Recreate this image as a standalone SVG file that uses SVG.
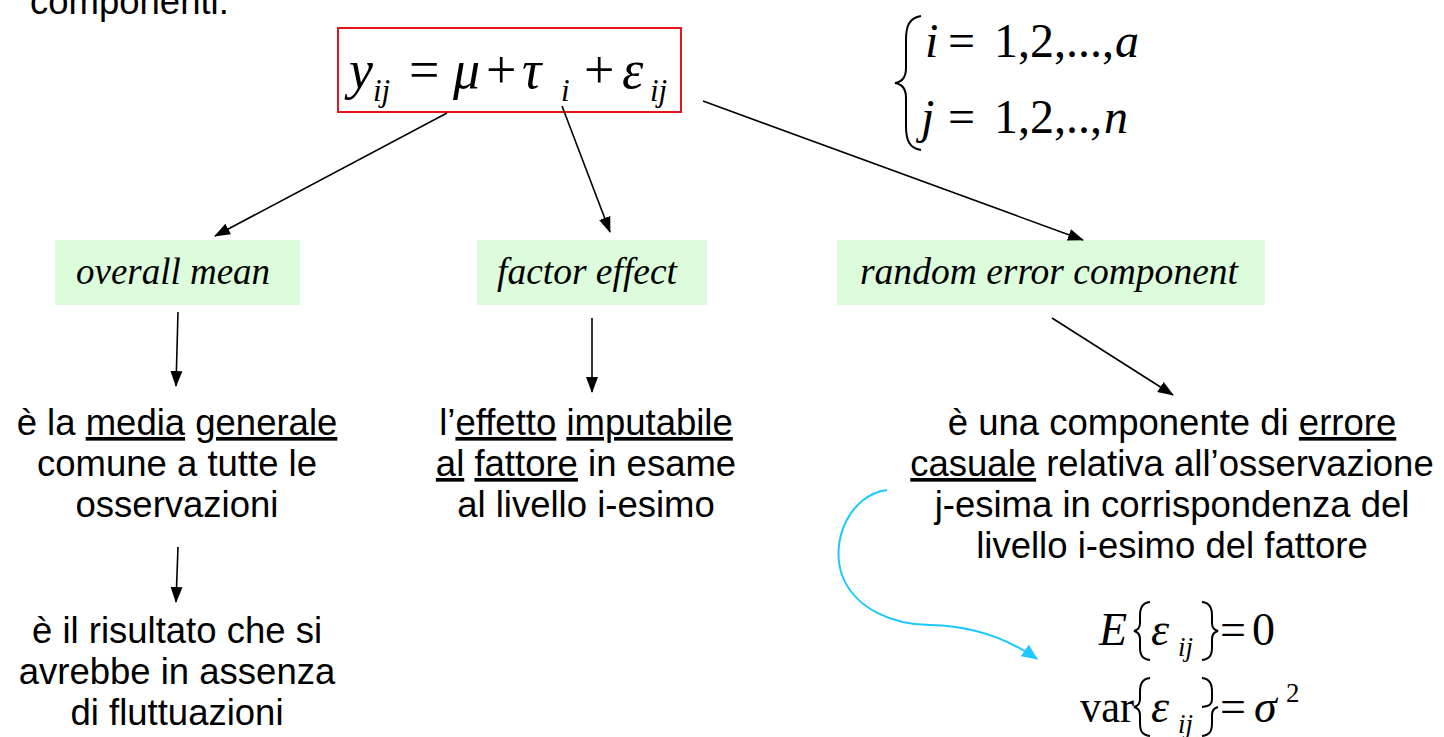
<svg xmlns="http://www.w3.org/2000/svg" width="1444" height="737" viewBox="0 0 1444 737">
<style>
.sans{font-family:"Liberation Sans",Arial,sans-serif;font-size:36.5px;fill:#000}
.serif{font-family:"Liberation Serif","Times New Roman",serif;fill:#000}
.it{font-style:italic}
.lbl{font-family:"Liberation Serif","Times New Roman",serif;font-style:italic;font-size:38px;fill:#000}
.box{fill:#dcfcdc;stroke:none}
.u{text-decoration:underline}
.conn line,.conn path{stroke:#000;stroke-width:1.6;fill:none}
.brace{fill:none;stroke:#000;stroke-width:2}
</style>
<defs>
<marker id="ah" viewBox="0 0 16 12" refX="15" refY="6" markerWidth="16" markerHeight="12" markerUnits="userSpaceOnUse" orient="auto"><path d="M0,0 L16,6 L0,12 z" fill="#000"/></marker>
<marker id="ahc" viewBox="0 0 16 14" refX="15" refY="7" markerWidth="16" markerHeight="14" markerUnits="userSpaceOnUse" orient="auto"><path d="M0,0 L16,7 L0,14 z" fill="#1ec8ff"/></marker>
</defs>
<rect width="1444" height="737" fill="#fff"/>
<text class="sans" x="30" y="14">componenti.</text>

<g id="formula">
<rect x="338" y="28" width="343" height="84" fill="#fff" stroke="#e8141b" stroke-width="2"/>
<text class="serif" font-size="54" y="88"><tspan class="it" x="349">y</tspan><tspan class="it" font-size="31" x="373" y="101">ij</tspan><tspan x="409" y="88">=</tspan><tspan class="it" x="453">μ</tspan><tspan x="486">+</tspan><tspan class="it" x="522">τ</tspan><tspan class="it" font-size="31" x="561" y="101">i</tspan><tspan x="584" y="88">+</tspan><tspan class="it" x="622">ε</tspan><tspan class="it" font-size="31" x="650" y="101">ij</tspan></text>
</g>

<g id="indices">
<path class="brace" d="M921,16 C909,18 906,26 906,40 L906,68 C906,78 902,82 895,83 C902,84 906,88 906,98 L906,126 C906,140 909,148 921,150"/>
<text class="serif" font-size="48" y="57"><tspan class="it" x="925">i</tspan><tspan x="948">=</tspan><tspan x="994">1,2,...,</tspan><tspan class="it" x="1115">a</tspan></text>
<text class="serif" font-size="48" y="133"><tspan class="it" x="921">j</tspan><tspan x="948">=</tspan><tspan x="994">1,2,..,</tspan><tspan class="it" x="1104">n</tspan></text>
</g>

<g id="overall-mean">
<rect class="box" x="55" y="240" width="245" height="65"/>
<text class="lbl" x="76" y="284" textLength="194" lengthAdjust="spacingAndGlyphs">overall mean</text>
</g>
<g id="factor-effect">
<rect class="box" x="477" y="240" width="230" height="65"/>
<text class="lbl" x="497" y="284" textLength="180" lengthAdjust="spacingAndGlyphs">factor effect</text>
</g>
<g id="random-error">
<rect class="box" x="837" y="240" width="428" height="65"/>
<text class="lbl" x="860" y="284" textLength="378" lengthAdjust="spacingAndGlyphs">random error component</text>
</g>

<g id="media-generale" class="sans" text-anchor="middle">
<text x="177" y="435">è la <tspan class="u">media</tspan> <tspan class="u">generale</tspan></text>
<text x="177" y="476">comune a tutte le</text>
<text x="177" y="517">osservazioni</text>
</g>
<g id="risultato" class="sans" text-anchor="middle">
<text x="177" y="643">è il risultato che si</text>
<text x="177" y="684">avrebbe in assenza</text>
<text x="177" y="725">di fluttuazioni</text>
</g>
<g id="effetto" class="sans" text-anchor="middle">
<text x="586" y="435">l’<tspan class="u">effetto</tspan> <tspan class="u">imputabile</tspan></text>
<text x="586" y="476"><tspan class="u">al</tspan> <tspan class="u">fattore</tspan> in esame</text>
<text x="586" y="517">al livello i-esimo</text>
</g>
<g id="errore" class="sans" text-anchor="middle">
<text x="1172" y="435">è una componente di <tspan class="u">errore</tspan></text>
<text x="1172" y="476"><tspan class="u">casuale</tspan> relativa all’osservazione</text>
<text x="1172" y="517">j-esima in corrispondenza del</text>
<text x="1172" y="558">livello i-esimo del fattore</text>
</g>

<g id="moments">
<text class="serif" font-size="46" y="645"><tspan class="it" x="1099">E</tspan></text>
<path class="brace" stroke-width="1.6" d="M1150,602 C1142,603 1140,608 1140,616 L1140,623 C1140,628 1138,630 1134,631 C1138,632 1140,634 1140,639 L1140,647 C1140,655 1142,659 1150,660"/>
<text class="serif" font-size="46" y="645"><tspan class="it" x="1151">ε</tspan><tspan class="it" font-size="27" x="1178" y="656">ij</tspan></text>
<path class="brace" stroke-width="1.6" d="M1202,602 C1210,603 1212,608 1212,616 L1212,623 C1212,628 1214,630 1218,631 C1214,632 1212,634 1212,639 L1212,647 C1212,655 1210,659 1202,660"/>
<text class="serif" font-size="46" y="645"><tspan x="1220">=</tspan><tspan x="1252">0</tspan></text>

<text class="serif" font-size="46" y="722" x="1080" textLength="54" lengthAdjust="spacingAndGlyphs">var</text>
<path class="brace" stroke-width="1.6" d="M1150,678 C1142,679 1140,684 1140,692 L1140,699 C1140,704 1138,706 1134,707 C1138,708 1140,710 1140,715 L1140,723 C1140,731 1142,735 1150,736"/>
<text class="serif" font-size="46" y="722"><tspan class="it" x="1151">ε</tspan><tspan class="it" font-size="27" x="1178" y="733">ij</tspan></text>
<path class="brace" stroke-width="1.6" d="M1202,678 C1210,679 1212,684 1212,692 L1212,699 C1212,704 1210,706 1202,707 M1202,678 M1218,707 C1214,708 1212,710 1212,715 L1212,723 C1212,731 1210,735 1202,736"/>
<text class="serif" font-size="46" y="722"><tspan x="1220">=</tspan><tspan class="it" x="1254">σ</tspan><tspan font-size="27" x="1286" y="702">2</tspan></text>
</g>

<g id="connectors" class="conn">
<line x1="447" y1="113" x2="215" y2="236" marker-end="url(#ah)"/>
<line x1="562" y1="106" x2="610" y2="232" marker-end="url(#ah)"/>
<line x1="703" y1="101" x2="1083" y2="240" marker-end="url(#ah)"/>
<line x1="178" y1="312" x2="176" y2="386" marker-end="url(#ah)"/>
<line x1="592" y1="318" x2="592" y2="392" marker-end="url(#ah)"/>
<line x1="1052" y1="318" x2="1173" y2="395" marker-end="url(#ah)"/>
<line x1="178" y1="547" x2="176" y2="602" marker-end="url(#ah)"/>
<path d="M887,490 C850,495 830,540 842,575 C855,610 895,625 930,625 C975,626 1010,640 1037,659" style="stroke:#1ec8ff;stroke-width:2" marker-end="url(#ahc)"/>
</g>
</svg>
